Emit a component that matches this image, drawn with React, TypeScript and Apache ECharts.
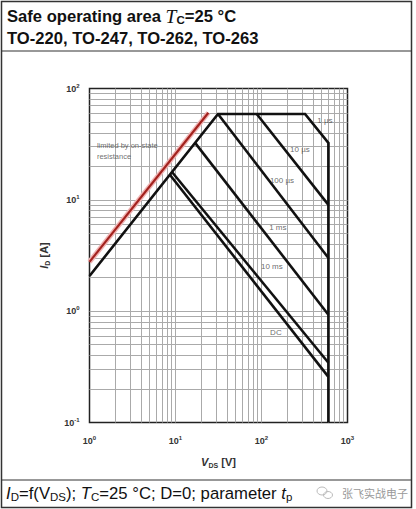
import React, { useEffect, useRef } from "react";
import * as echarts from "echarts";

// ---- data ----
const gridX = [2, 3, 4, 5, 6, 7, 8, 9, 10, 20, 30, 40, 50, 60, 70, 80, 90, 100, 200, 300, 400, 500, 600, 700, 800, 900];
const gridY = [0.2, 0.3, 0.4, 0.5, 0.6, 0.7, 0.8, 0.9, 1, 2, 3, 4, 5, 6, 7, 8, 9, 10, 20, 30, 40, 50, 60, 70, 80, 90];

const rdsLimit = [[1, 2.77], [24.1, 60.6]];
const curve1us = [[1, 2.07], [31.2, 59], [321, 59], [600, 32.4], [600, 0.1]];
const curve10us = [[88, 59], [600, 9.0]];
const curve100us = [[31.2, 59], [600, 3.0]];
const curve1ms = [[16.9, 32.5], [600, 0.93]];
const curve10ms = [[9.1, 17.8], [600, 0.344]];
const curveDC = [[8.6, 16.8], [600, 0.257]];

const curveLabels = [
  { name: "1 µs", value: [547, 52] },
  { name: "10 µs", value: [280, 28.6] },
  { name: "100 µs", value: [173, 14.8] },
  { name: "1 ms", value: [155, 5.7] },
  { name: "10 ms", value: [132, 2.5] },
  { name: "DC", value: [147, 0.64] },
];
const noteLabel = [{ name: "limited by on-state\nresistance", value: [1.22, 27.2] }];

const FONT = "'Liberation Sans', Arial, Helvetica, sans-serif";

const tickFmt = (v: number) => `{b|10}{s|${Math.round(Math.log10(v))}}`;
const tickRich = {
  b: { fontSize: 9, fontWeight: "bold", color: "#333", fontFamily: FONT, lineHeight: 12 },
  s: { fontSize: 6, fontWeight: "bold", color: "#333", fontFamily: FONT, verticalAlign: "top", lineHeight: 12 },
};

function lineSeries(data: number[][], width = 2.6) {
  return {
    type: "line",
    data,
    showSymbol: false,
    symbol: "none",
    z: 5,
    silent: true,
    lineStyle: { color: "#111", width, cap: "butt", join: "miter" },
  };
}

export default function App() {
  const ref = useRef<HTMLDivElement>(null);
  useEffect(() => {
    const chart = echarts.init(ref.current!, null, { renderer: "svg" });
    const option: any = {
      animation: false,
      backgroundColor: "#fff",
      grid: {
        left: 89.5,
        top: 88.5,
        width: 258,
        height: 334,
        show: true,
        borderColor: "#222",
        borderWidth: 1.5,
        backgroundColor: "transparent",
      },
      xAxis: {
        type: "log",
        logBase: 10,
        min: 1,
        max: 1000,
        splitLine: { show: false },
        axisLine: { show: false },
        axisTick: { show: false },
        axisLabel: { formatter: tickFmt, rich: tickRich, margin: 12 },
        name: "{v|V}{s|DS}{n| [V]}",
        nameLocation: "middle",
        nameGap: 32,
        nameTextStyle: {
          rich: {
            v: { fontSize: 11, fontWeight: "bold", fontStyle: "italic", color: "#333", fontFamily: FONT, lineHeight: 14 },
            s: { fontSize: 7, fontWeight: "bold", color: "#333", fontFamily: FONT, verticalAlign: "bottom", lineHeight: 14 },
            n: { fontSize: 11, fontWeight: "bold", color: "#333", fontFamily: FONT, lineHeight: 14 },
          },
        },
      },
      yAxis: {
        type: "log",
        logBase: 10,
        min: 0.1,
        max: 100,
        splitLine: { show: false },
        axisLine: { show: false },
        axisTick: { show: false },
        axisLabel: { formatter: tickFmt, rich: tickRich, margin: 10 },
        name: "{v|I}{s|D}{n| [A]}",
        nameLocation: "middle",
        nameRotate: 90,
        nameGap: 39,
        nameTextStyle: {
          rich: {
            v: { fontSize: 11, fontWeight: "bold", fontStyle: "italic", color: "#333", fontFamily: FONT, lineHeight: 14 },
            s: { fontSize: 7, fontWeight: "bold", color: "#333", fontFamily: FONT, verticalAlign: "bottom", lineHeight: 14 },
            n: { fontSize: 11, fontWeight: "bold", color: "#333", fontFamily: FONT, lineHeight: 14 },
          },
        },
      },
      series: [
        {
          type: "line",
          data: [],
          z: 1,
          silent: true,
          markLine: {
            silent: true,
            symbol: "none",
            animation: false,
            label: { show: false },
            lineStyle: { color: "#aaaaaa", width: 1, type: "solid" },
            data: [
              ...gridX.map((v) => ({ xAxis: v })),
              ...gridY.map((v) => ({ yAxis: v })),
            ],
          },
        },
        {
          type: "line",
          data: rdsLimit,
          symbol: "none",
          z: 6,
          silent: true,
          lineStyle: { color: "#f0b4b4", width: 5 },
        },
        {
          type: "line",
          data: rdsLimit,
          symbol: "none",
          z: 7,
          silent: true,
          lineStyle: { color: "#a3221e", width: 2.2 },
        },
        lineSeries(curve1us, 2.7),
        lineSeries(curve10us),
        lineSeries(curve100us),
        lineSeries(curve1ms),
        lineSeries(curve10ms),
        lineSeries(curveDC),
        {
          type: "scatter",
          data: curveLabels,
          symbolSize: 0,
          z: 8,
          silent: true,
          itemStyle: { color: "#444" },
          label: {
            show: true,
            position: "inside",
            formatter: (p: any) => p.name,
            fontSize: 8,
            color: "#444",
            textBorderWidth: 0,
            fontFamily: FONT,
          },
        },
        {
          type: "scatter",
          data: noteLabel,
          symbolSize: 0,
          z: 8,
          silent: true,
          itemStyle: { color: "#444" },
          label: {
            show: true,
            position: "right",
            distance: 0,
            formatter: (p: any) => p.name,
            fontSize: 7.5,
            lineHeight: 11,
            color: "#4a4a4a",
            textBorderWidth: 0,
            fontFamily: FONT,
            align: "left",
          },
        },
      ],
      graphic: [
        {
          type: "rect",
          shape: { x: 1.5, y: 1.5, width: 410, height: 506 },
          style: { fill: "none", stroke: "#333", lineWidth: 1.5 },
          silent: true,
        },
        {
          type: "line",
          shape: { x1: 1.5, y1: 51, x2: 411.5, y2: 51 },
          style: { stroke: "#333", lineWidth: 1.2 },
          silent: true,
        },
        {
          type: "line",
          shape: { x1: 1.5, y1: 480, x2: 411.5, y2: 480 },
          style: { stroke: "#333", lineWidth: 1.2 },
          silent: true,
        },
        {
          type: "text",
          x: 7,
          y: 16,
          silent: true,
          style: {
            text: "{b|Safe operating area }{t|T}{c|C}{b|=25 °C}",
            verticalAlign: "middle",
            rich: {
              b: { fontSize: 16.6, fontWeight: "bold", fill: "#111", fontFamily: FONT, lineHeight: 20 },
              t: { fontSize: 19.5, fontStyle: "italic", fill: "#111", fontFamily: "'Liberation Serif', 'Times New Roman', serif", lineHeight: 20 },
              c: { fontSize: 11.5, fontWeight: "bold", fill: "#111", fontFamily: FONT, verticalAlign: "bottom", lineHeight: 20 },
            },
          },
        },
        {
          type: "text",
          x: 7,
          y: 38,
          silent: true,
          style: {
            text: "TO-220, TO-247, TO-262, TO-263",
            verticalAlign: "middle",
            fontSize: 16.6,
            fontWeight: "bold",
            fill: "#111",
            fontFamily: FONT,
          },
        },
        {
          type: "text",
          x: 6,
          y: 493,
          silent: true,
          style: {
            text: "{i|I}{s|D}{n|=f(V}{s|DS}{n|); }{i|T}{s|C}{n|=25 °C; D=0; parameter }{i|t}{s|p}",
            verticalAlign: "middle",
            rich: {
              i: { fontSize: 16.7, fontStyle: "italic", fill: "#111", fontFamily: FONT, lineHeight: 20 },
              n: { fontSize: 16.7, fill: "#111", fontFamily: FONT, lineHeight: 20 },
              s: { fontSize: 11.5, fill: "#111", fontFamily: FONT, verticalAlign: "bottom", lineHeight: 20 },
            },
          },
        },
        {
          type: "ellipse",
          shape: { cx: 322, cy: 491, rx: 5, ry: 4 },
          style: { fill: "none", stroke: "#bbb", lineWidth: 1 },
          silent: true,
        },
        {
          type: "ellipse",
          shape: { cx: 328, cy: 495, rx: 4.5, ry: 3.5 },
          style: { fill: "none", stroke: "#bbb", lineWidth: 1 },
          silent: true,
        },
        {
          type: "text",
          x: 342,
          y: 493,
          silent: true,
          style: {
            text: "张飞实战电子",
            verticalAlign: "middle",
            fontSize: 11,
            fill: "#999",
            fontFamily: "'Noto Sans CJK SC', sans-serif",
          },
        },
      ],
    };
    chart.setOption(option);
    return () => chart.dispose();
  }, []);
  return (
    <div
      ref={ref}
      style={{ position: "absolute", left: 0, top: 0, width: 416, height: 509, background: "#fff" }}
    />
  );
}
